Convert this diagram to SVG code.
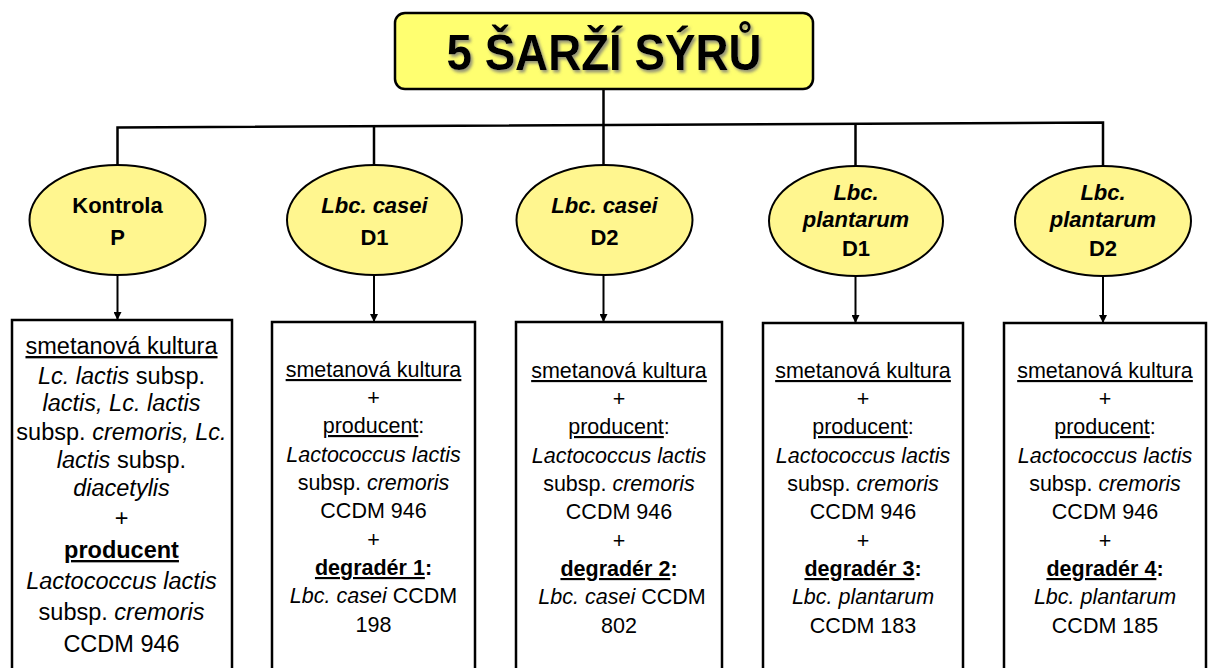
<svg xmlns="http://www.w3.org/2000/svg" width="1208" height="668" viewBox="0 0 1208 668">
<defs>
<style>
text{font-family:"Liberation Sans",Arial,sans-serif;fill:#000;text-anchor:middle}
.t{font-size:50px;font-weight:bold}
.e{font-size:22px;font-weight:bold}
.b1{font-size:23.5px}
.b{font-size:21.5px}
.i{font-style:italic}
.bd{font-weight:bold}
.u{text-decoration:underline}
.ell{fill:#fff68f;stroke:#000;stroke-width:2}
.box{fill:#fff;stroke:#000;stroke-width:2.5}
.ln{fill:none;stroke:#000;stroke-width:2.5}
.ar{fill:none;stroke:#000;stroke-width:2;marker-end:url(#ah)}
</style>
<marker id="ah" markerWidth="8" markerHeight="8" refX="7" refY="4" orient="auto" markerUnits="userSpaceOnUse">
<path d="M0,0 L8,4 L0,8 Z" fill="#000"/>
</marker>
<filter id="sh" x="-5%" y="-10%" width="115%" height="130%">
<feDropShadow dx="2" dy="2.5" stdDeviation="1.5" flood-color="#777" flood-opacity="0.8"/>
</filter>
</defs>
<rect width="1208" height="668" fill="#fff"/>
<g id="connectors">
<line class="ln" x1="603.5" y1="89" x2="603.5" y2="125"/>
<polyline class="ln" points="117.5,166 117.5,127.5 1103,122.5 1103,166"/>
<line class="ln" x1="374" y1="127" x2="374" y2="166"/>
<line class="ln" x1="603.5" y1="125" x2="603.5" y2="166"/>
<line class="ln" x1="855.5" y1="124" x2="855.5" y2="166"/>
<line class="ar" x1="117.5" y1="275" x2="117.5" y2="319"/>
<line class="ar" x1="374" y1="275" x2="374" y2="321"/>
<line class="ar" x1="603.5" y1="275" x2="603.5" y2="321"/>
<line class="ar" x1="855.5" y1="276" x2="855.5" y2="322"/>
<line class="ar" x1="1103" y1="276" x2="1103" y2="322"/>
</g>
<g id="title">
<rect x="395" y="13" width="418" height="76" rx="10" fill="#ffff70" stroke="#000" stroke-width="2.5"/>
<text class="t" x="604" y="70" textLength="315" lengthAdjust="spacingAndGlyphs" filter="url(#sh)">5 ŠARŽÍ SÝRŮ</text>
</g>
<g id="n-kontrola">
<ellipse class="ell" cx="117.5" cy="220" rx="88" ry="55"/>
<text class="e" x="117.5" y="213">Kontrola</text>
<text class="e" x="117.5" y="245">P</text>
</g>
<g id="n-casei-d1">
<ellipse class="ell" cx="374.5" cy="220" rx="87.5" ry="55"/>
<text class="e i" x="374.5" y="213">Lbc. casei</text>
<text class="e" x="374.5" y="245">D1</text>
</g>
<g id="n-casei-d2">
<ellipse class="ell" cx="604.5" cy="220" rx="88" ry="55"/>
<text class="e i" x="604.5" y="213">Lbc. casei</text>
<text class="e" x="604.5" y="245">D2</text>
</g>
<g id="n-plant-d1">
<ellipse class="ell" cx="856" cy="221" rx="87" ry="55"/>
<text class="e i" x="856" y="200">Lbc.</text>
<text class="e i" x="856" y="227">plantarum</text>
<text class="e" x="856" y="256">D1</text>
</g>
<g id="n-plant-d2">
<ellipse class="ell" cx="1103" cy="221" rx="88" ry="55"/>
<text class="e i" x="1103" y="200">Lbc.</text>
<text class="e i" x="1103" y="227">plantarum</text>
<text class="e" x="1103" y="256">D2</text>
</g>
<g id="box-p">
<rect class="box" x="12" y="320" width="220" height="370"/>
<text class="b1" x="121.5" y="354"><tspan class="u">smetanová kultura</tspan></text>
<text class="b1" x="121.5" y="384"><tspan class="i">Lc. lactis</tspan> subsp.</text>
<text class="b1" x="121.5" y="411"><tspan class="i">lactis, Lc. lactis</tspan></text>
<text class="b1" x="121.5" y="440">subsp. <tspan class="i">cremoris, Lc.</tspan></text>
<text class="b1" x="121.5" y="468"><tspan class="i">lactis</tspan> subsp.</text>
<text class="b1" x="121.5" y="496"><tspan class="i">diacetylis</tspan></text>
<text class="b1" x="121.5" y="526">+</text>
<text class="b1" x="121.5" y="558"><tspan class="bd u">producent</tspan></text>
<text class="b1" x="121.5" y="589"><tspan class="i">Lactococcus lactis</tspan></text>
<text class="b1" x="121.5" y="620">subsp. <tspan class="i">cremoris</tspan></text>
<text class="b1" x="121.5" y="652">CCDM 946</text>
</g>
<g id="box-d1">
<rect class="box" x="272" y="322" width="203" height="370"/>
<text class="b" x="373.5" y="377"><tspan class="u">smetanová kultura</tspan></text>
<text class="b" x="373.5" y="405">+</text>
<text class="b" x="373.5" y="433"><tspan class="u">producent</tspan>:</text>
<text class="b" x="373.5" y="462"><tspan class="i">Lactococcus lactis</tspan></text>
<text class="b" x="373.5" y="490">subsp. <tspan class="i">cremoris</tspan></text>
<text class="b" x="373.5" y="518">CCDM 946</text>
<text class="b" x="373.5" y="547">+</text>
<text class="b bd" x="373.5" y="575"><tspan class="u">degradér 1</tspan>:</text>
<text class="b" x="373.5" y="603"><tspan class="i">Lbc. casei</tspan> CCDM</text>
<text class="b" x="373.5" y="632">198</text>
</g>
<g id="box-d2">
<rect class="box" x="516" y="322" width="206" height="370"/>
<text class="b" x="619" y="378"><tspan class="u">smetanová kultura</tspan></text>
<text class="b" x="619" y="406">+</text>
<text class="b" x="619" y="434"><tspan class="u">producent</tspan>:</text>
<text class="b" x="619" y="463"><tspan class="i">Lactococcus lactis</tspan></text>
<text class="b" x="619" y="491">subsp. <tspan class="i">cremoris</tspan></text>
<text class="b" x="619" y="519">CCDM 946</text>
<text class="b" x="619" y="548">+</text>
<text class="b bd" x="619" y="576"><tspan class="u">degradér 2</tspan>:</text>
<text class="b" x="622" y="604"><tspan class="i">Lbc. casei</tspan> CCDM</text>
<text class="b" x="619" y="633">802</text>
</g>
<g id="box-d3">
<rect class="box" x="763" y="323" width="200" height="370"/>
<text class="b" x="863" y="378"><tspan class="u">smetanová kultura</tspan></text>
<text class="b" x="863" y="406">+</text>
<text class="b" x="863" y="434"><tspan class="u">producent</tspan>:</text>
<text class="b" x="863" y="463"><tspan class="i">Lactococcus lactis</tspan></text>
<text class="b" x="863" y="491">subsp. <tspan class="i">cremoris</tspan></text>
<text class="b" x="863" y="519">CCDM 946</text>
<text class="b" x="863" y="548">+</text>
<text class="b bd" x="863" y="576"><tspan class="u">degradér 3</tspan>:</text>
<text class="b" x="863" y="604"><tspan class="i">Lbc. plantarum</tspan></text>
<text class="b" x="863" y="633">CCDM 183</text>
</g>
<g id="box-d4">
<rect class="box" x="1004" y="323" width="202" height="370"/>
<text class="b" x="1105" y="378"><tspan class="u">smetanová kultura</tspan></text>
<text class="b" x="1105" y="406">+</text>
<text class="b" x="1105" y="434"><tspan class="u">producent</tspan>:</text>
<text class="b" x="1105" y="463"><tspan class="i">Lactococcus lactis</tspan></text>
<text class="b" x="1105" y="491">subsp. <tspan class="i">cremoris</tspan></text>
<text class="b" x="1105" y="519">CCDM 946</text>
<text class="b" x="1105" y="548">+</text>
<text class="b bd" x="1105" y="576"><tspan class="u">degradér 4</tspan>:</text>
<text class="b" x="1105" y="604"><tspan class="i">Lbc. plantarum</tspan></text>
<text class="b" x="1105" y="633">CCDM 185</text>
</g>
</svg>
